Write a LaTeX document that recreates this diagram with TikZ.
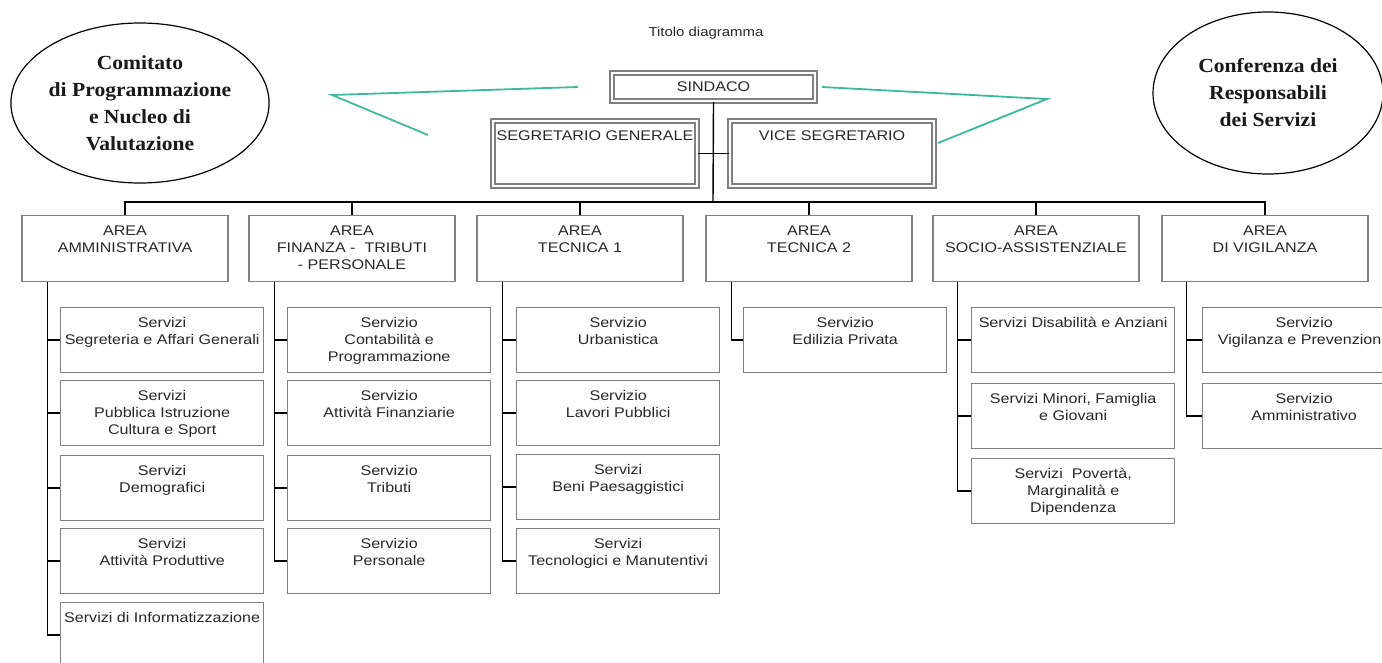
\documentclass[tikz,border=0pt]{standalone}
\usepackage{fontspec}
\setmainfont{Liberation Sans}[FakeStretch=1.15]
\newfontfamily\ovalfont{Liberation Serif}[FakeStretch=1.08]
\usetikzlibrary{shapes.geometric}
\definecolor{linkgreen}{RGB}{60,185,155}
\definecolor{boxgray}{RGB}{128,128,128}
\definecolor{txtgray}{RGB}{40,40,40}
\newcommand{\toptext}[1]{\begin{tabular}[t]{@{}c@{}}#1\end{tabular}}

\begin{document}
\begin{tikzpicture}[x=1pt, y=-1pt,
  box/.style = {draw=boxgray, line width=1.3pt, fill=white, inner xsep=2pt, inner ysep=4pt, font=\fontsize{14}{17}\selectfont, text=txtgray},
  head/.style = {box, double=white, double distance=1.2pt, line width=2pt},
  headtop/.style = {head, minimum width=204pt, minimum height=65pt, text height=15pt, text depth=42pt},
  area/.style = {box, minimum width=206pt, minimum height=66pt, text height=16pt, text depth=42pt, anchor=north},
  serv/.style = {box, minimum width=203pt, minimum height=65pt, text height=16pt, text depth=41pt, anchor=north west},
  oval/.style = {draw, ellipse, line width=1.2pt, inner sep=0pt, align=center, text=black!90, font=\ovalfont\bfseries\fontsize{20}{27}\selectfont},
  link/.style = {linkgreen, line width=1.8pt},
  wire/.style = {black, line width=1.4pt}]
\useasboundingbox (0,0) rectangle (1382,662);
\clip (0,0) rectangle (1382,662);
\fill[white] (0,0) rectangle (1382,662);

\node[text=txtgray, font=\fontsize{13}{15}\selectfont] (title) at (706,33) {Titolo diagramma};
\node[oval, minimum width=254pt, minimum height=160pt] (comitato) at (140,103) {Comitato\\di Programmazione\\e Nucleo di\\Valutazione};
\node[oval, minimum width=230pt, minimum height=162pt] (conferenza) at (1268,93) {Conferenza dei\\Responsabili\\dei Servizi};

\node[head, minimum width=203pt, minimum height=28pt] (sindaco) at (713.5,87) {SINDACO};
\node[headtop] (segr) at (595,153.5) {SEGRETARIO GENERALE};
\node[headtop] (vice) at (832,153.5) {VICE SEGRETARIO};

\node[area] (a1) at (125,215) {\toptext{AREA\\AMMINISTRATIVA}};
\node[area] (a2) at (352,215) {\toptext{AREA\\FINANZA -~ TRIBUTI\\- PERSONALE}};
\node[area] (a3) at (580,215) {\toptext{AREA\\TECNICA 1}};
\node[area] (a4) at (809,215) {\toptext{AREA\\TECNICA 2}};
\node[area] (a5) at (1036,215) {\toptext{AREA\\SOCIO-ASSISTENZIALE}};
\node[area] (a6) at (1265,215) {\toptext{AREA\\DI VIGILANZA}};

\node[serv] (s11) at (60,307) {\toptext{Servizi\\Segreteria e Affari Generali}};
\node[serv] (s12) at (60,380) {\toptext{Servizi\\Pubblica Istruzione\\Cultura e Sport}};
\node[serv] (s13) at (60,455) {\toptext{Servizi\\Demografici}};
\node[serv] (s14) at (60,528) {\toptext{Servizi\\Attività Produttive}};
\node[serv] (s15) at (60,602) {\toptext{Servizi di Informatizzazione}};

\node[serv] (s21) at (287,307) {\toptext{Servizio\\Contabilità e\\Programmazione}};
\node[serv] (s22) at (287,380) {\toptext{Servizio\\Attività Finanziarie}};
\node[serv] (s23) at (287,455) {\toptext{Servizio\\Tributi}};
\node[serv] (s24) at (287,528) {\toptext{Servizio\\Personale}};

\node[serv] (s31) at (516,307) {\toptext{Servizio\\Urbanistica}};
\node[serv] (s32) at (516,380) {\toptext{Servizio\\Lavori Pubblici}};
\node[serv] (s33) at (516,454) {\toptext{Servizi\\Beni Paesaggistici}};
\node[serv] (s34) at (516,528) {\toptext{Servizi\\Tecnologici e Manutentivi}};

\node[serv] (s41) at (743,307) {\toptext{Servizio\\Edilizia Privata}};

\node[serv] (s51) at (971,307) {\toptext{Servizi Disabilità e Anziani}};
\node[serv] (s52) at (971,383) {\toptext{Servizi Minori, Famiglia\\e Giovani}};
\node[serv] (s53) at (971,458) {\toptext{Servizi~ Povertà,\\Marginalità e\\Dipendenza}};

\node[serv] (s61) at (1202,307) {\toptext{Servizio\\Vigilanza e Prevenzione}};
\node[serv] (s62) at (1202,383) {\toptext{Servizio\\Amministrativo}};

\coordinate (bus) at (713,202);
\draw[wire] (sindaco.south) -- (bus);
\draw[wire] (segr.east) -- (vice.west);
\draw[wire] (a1.north) |- (bus) -| (a6.north);
\draw[wire] (a2.north) -- (a2.north |- bus);
\draw[wire] (a3.north) -- (a3.north |- bus);
\draw[wire] (a4.north) -- (a4.north |- bus);
\draw[wire] (a5.north) -- (a5.north |- bus);

\coordinate (t1) at ([xshift=26pt]a1.south west);
\coordinate (t2) at ([xshift=26pt]a2.south west);
\coordinate (t3) at ([xshift=26pt]a3.south west);
\coordinate (t4) at ([xshift=26pt]a4.south west);
\coordinate (t5) at ([xshift=25pt]a5.south west);
\coordinate (t6) at ([xshift=25pt]a6.south west);

\draw[wire] (t1) |- (s15.west);
\draw[wire] (s11.west) -- (s11.west -| t1);
\draw[wire] (s12.west) -- (s12.west -| t1);
\draw[wire] (s13.west) -- (s13.west -| t1);
\draw[wire] (s14.west) -- (s14.west -| t1);

\draw[wire] (t2) |- (s24.west);
\draw[wire] (s21.west) -- (s21.west -| t2);
\draw[wire] (s22.west) -- (s22.west -| t2);
\draw[wire] (s23.west) -- (s23.west -| t2);

\draw[wire] (t3) |- (s34.west);
\draw[wire] (s31.west) -- (s31.west -| t3);
\draw[wire] (s32.west) -- (s32.west -| t3);
\draw[wire] (s33.west) -- (s33.west -| t3);

\draw[wire] (t4) |- (s41.west);

\draw[wire] (t5) |- (s53.west);
\draw[wire] (s51.west) -- (s51.west -| t5);
\draw[wire] (s52.west) -- (s52.west -| t5);

\draw[wire] (t6) |- (s62.west);
\draw[wire] (s61.west) -- (s61.west -| t6);

\coordinate (lv) at (332,95);
\coordinate (lu) at (578,87);
\coordinate (ld) at (428,135);
\coordinate (rv) at (1047,99);
\coordinate (ru) at (822,87);
\coordinate (rd) at (938,143);
\draw[link] (lu) -- (lv) -- (ld);
\draw[link] (ru) -- (rv) -- (rd);
\end{tikzpicture}
\end{document}
